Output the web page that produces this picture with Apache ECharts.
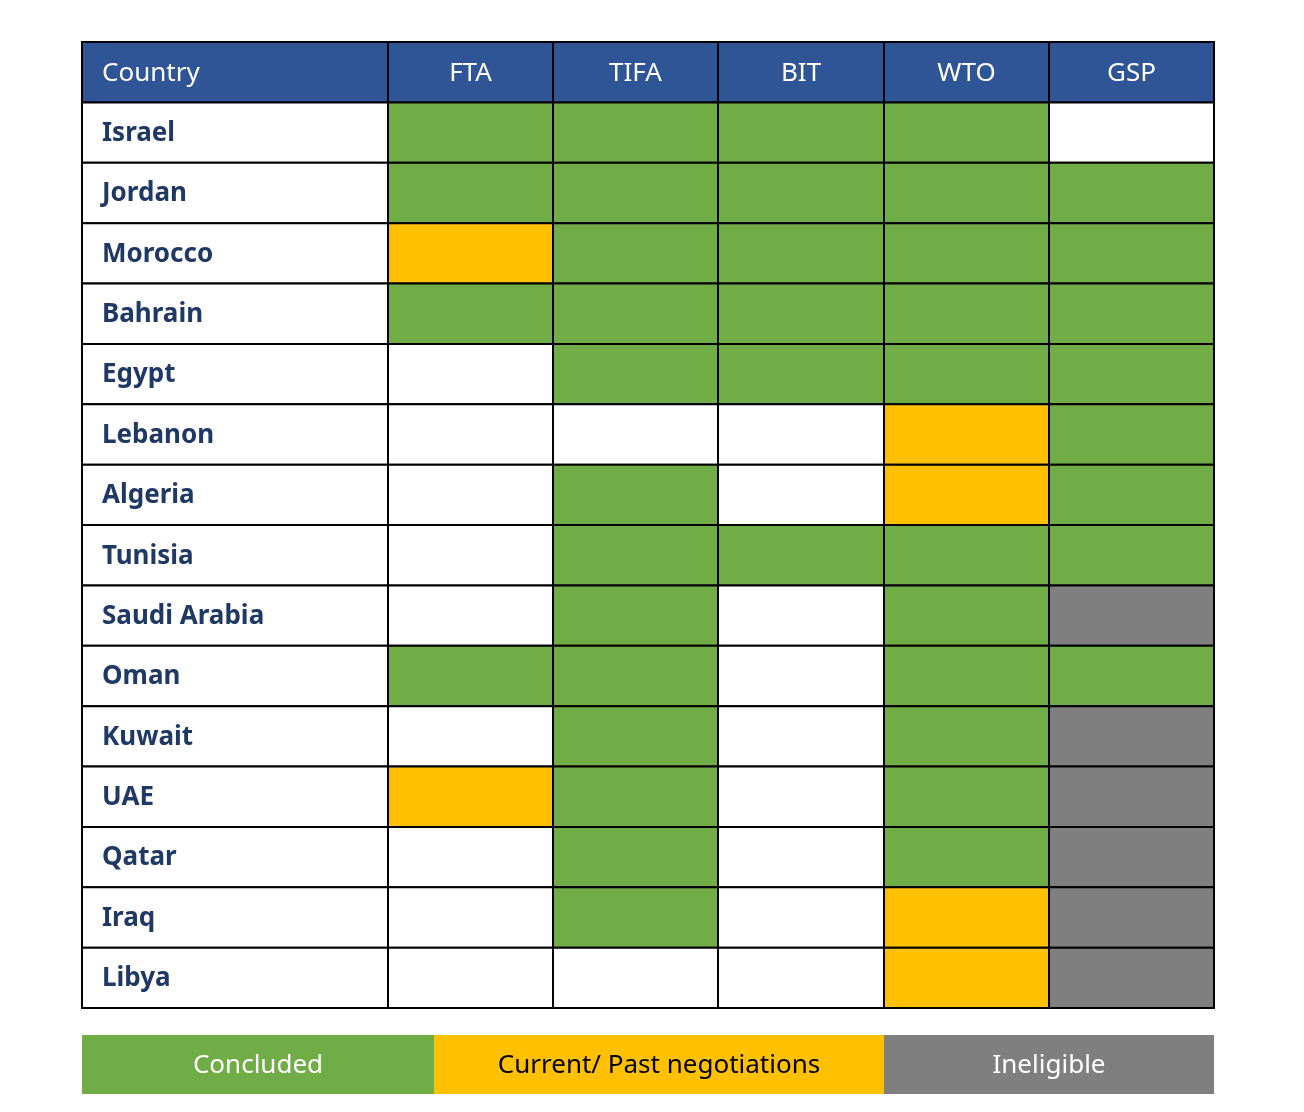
<!DOCTYPE html>
<html>
<head>
<meta charset="utf-8">
<script src="https://cdn.jsdelivr.net/npm/echarts@6/dist/echarts.min.js"></script>
<style>html,body{margin:0;padding:0;background:#fff}#main{width:1304px;height:1112px}</style>
</head>
<body>
<div id="main"></div>
<script>
// C = concluded, N = current/past negotiations, I = ineligible, '' = none
const countries = ['Israel', 'Jordan', 'Morocco', 'Bahrain', 'Egypt', 'Lebanon', 'Algeria', 'Tunisia',
  'Saudi Arabia', 'Oman', 'Kuwait', 'UAE', 'Qatar', 'Iraq', 'Libya'];
const columns = ['FTA', 'TIFA', 'BIT', 'WTO', 'GSP'];
const fta  = ['C', 'C', 'N', 'C', '', '', '', '', '', 'C', '', 'N', '', '', ''];
const tifa = ['C', 'C', 'C', 'C', 'C', '', 'C', 'C', 'C', 'C', 'C', 'C', 'C', 'C', ''];
const bit  = ['C', 'C', 'C', 'C', 'C', '', '', 'C', '', '', '', '', '', '', ''];
const wto  = ['C', 'C', 'C', 'C', 'C', 'N', 'N', 'C', 'C', 'C', 'C', 'C', 'C', 'N', 'N'];
const gsp  = ['', 'C', 'C', 'C', 'C', 'C', 'C', 'C', 'I', 'C', 'I', 'I', 'I', 'I', 'I'];
const legendLabels = ['Concluded', 'Current/ Past negotiations', 'Ineligible'];

const statusCols = [fta, tifa, bit, wto, gsp];
const colors = { C: '#70AD47', N: '#FFC000', I: '#7F7F7F', '': '#FFFFFF' };
const edges = [0, 306, 471, 636, 802, 967, 1132];
const font = '"Noto Sans", "Open Sans", sans-serif';

// cells: [col, row, kind, text]
const cells = [];
cells.push([0, 0, 'head', 'Country']);
columns.forEach((c, i) => cells.push([i + 1, 0, 'head', c]));
countries.forEach((name, r) => {
  cells.push([0, r + 1, 'name', name]);
  statusCols.forEach((arr, i) => cells.push([i + 1, r + 1, arr[r], '']));
});

const chart = echarts.init(document.getElementById('main'));
chart.setOption({
  animation: false,
  grid: { left: 82, top: 42, width: 1132, height: 966 },
  xAxis: { type: 'value', min: 0, max: 1132, show: false },
  yAxis: { type: 'value', min: 0, max: 16, inverse: true, show: false },
  series: [{
    type: 'custom',
    data: cells,
    renderItem: (params, api) => {
      const col = api.value(0), row = api.value(1);
      const d = cells[params.dataIndex];
      const kind = d[2];
      const p0 = api.coord([edges[col], row]);
      const p1 = api.coord([edges[col + 1], row + 1]);
      const w = p1[0] - p0[0], h = p1[1] - p0[1];
      let fill = '#FFFFFF';
      if (kind === 'head') fill = '#2F5597';
      else if (kind !== 'name') fill = colors[kind];
      const children = [{
        type: 'rect',
        shape: { x: p0[0], y: p0[1], width: w, height: h },
        style: { fill: fill, stroke: '#000', lineWidth: 2 }
      }];
      if (d[3]) {
        const left = col === 0;
        children.push({
          type: 'text',
          style: {
            text: d[3],
            x: left ? p0[0] + 20 : p0[0] + w / 2,
            y: p0[1] + h / 2 + 1,
            align: left ? 'left' : 'center',
            verticalAlign: 'middle',
            fill: kind === 'head' ? '#FFFFFF' : '#1F3864',
            font: (kind === 'name' ? 'bold ' : '') + '26px ' + font
          }
        });
      }
      return { type: 'group', children: children };
    }
  }],
  graphic: [
    { type: 'rect', shape: { x: 82, y: 1035, width: 352, height: 59 }, style: { fill: colors.C } },
    { type: 'rect', shape: { x: 434, y: 1035, width: 450, height: 59 }, style: { fill: colors.N } },
    { type: 'rect', shape: { x: 884, y: 1035, width: 330, height: 59 }, style: { fill: colors.I } },
    { type: 'text', style: { text: legendLabels[0], x: 258, y: 1066, align: 'center', verticalAlign: 'middle', fill: '#fff', font: '26px ' + font } },
    { type: 'text', style: { text: legendLabels[1], x: 659, y: 1066, align: 'center', verticalAlign: 'middle', fill: '#000', font: '26px ' + font } },
    { type: 'text', style: { text: legendLabels[2], x: 1049, y: 1066, align: 'center', verticalAlign: 'middle', fill: '#fff', font: '26px ' + font } }
  ]
});
</script>
</body>
</html>
